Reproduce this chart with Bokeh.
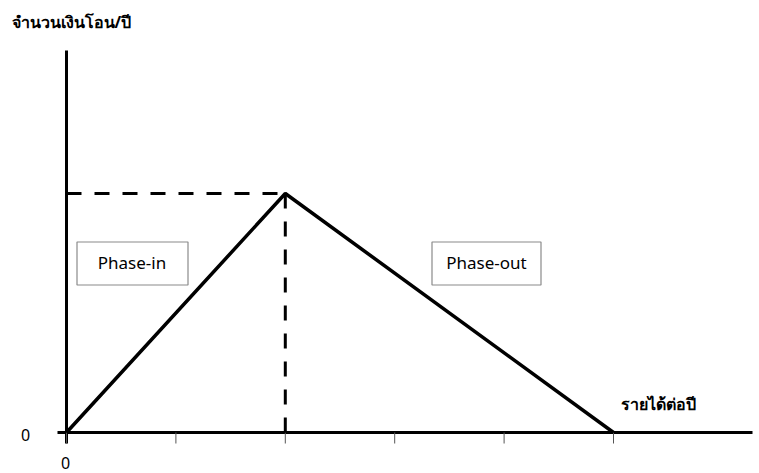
from bokeh.plotting import figure
from bokeh.models import Range1d, Label
from bokeh.embed import file_html
from bokeh.resources import INLINE

# Income brackets along the horizontal axis (tick positions)
income_ticks = [0, 1, 2, 3, 4, 5]
# Transfer schedule: rises to the peak, then phases out to zero
income_points = [0, 2, 5]
transfer_points = [0, 1, 0]
peak_income = 2
peak_transfer = 1

y_title = "จำนวนเงินโอน/ปี"
x_title = "รายได้ต่อปี"
phase_in_label = "Phase-in"
phase_out_label = "Phase-out"

W, H = 759, 473
X0, XS = 66.0, 109.4     # pixel of x=0, pixels per x unit
Y0, YS = 432.0, 239.0    # pixel of y=0, pixels per y unit


def dx(px):
    return (px - X0) / XS


def dy(py):
    return (Y0 - py) / YS


p = figure(width=W, height=H, x_range=Range1d(dx(0), dx(W)), y_range=Range1d(dy(H), dy(0)),
           min_border=0, toolbar_location=None, output_backend="svg")
p.axis.visible = False
p.grid.visible = False
p.outline_line_color = None
p.background_fill_color = "white"

FONT = "Noto Sans"

# axes
p.line([0, 0], [dy(443), dy(50)], line_color="black", line_width=3)
p.line([dx(57), dx(752)], [0, 0], line_color="black", line_width=3)
p.segment(x0=income_ticks, y0=[0] * len(income_ticks), x1=income_ticks,
          y1=[dy(443)] * len(income_ticks), line_color="#555555", line_width=1)

# dashed guides to the peak
p.line([0, peak_income], [peak_transfer, peak_transfer], line_color="black", line_width=3, line_dash="15 13")
p.line([peak_income, peak_income], [0, peak_transfer], line_color="black", line_width=3, line_dash="15 13")

# transfer schedule
p.line(income_points, transfer_points, line_color="black", line_width=3.5)

# phase boxes
p.quad(left=[dx(76.5), dx(431.5)], right=[dx(187.5), dx(540.5)],
       bottom=[dy(284.5), dy(284.5)], top=[dy(241.5), dy(241.5)],
       fill_color="white", line_color="#8a8a8a", line_width=1.2)
p.add_layout(Label(x=dx(131.5), y=dy(262), text=phase_in_label, text_align="center",
                   text_baseline="middle", text_font=FONT, text_font_size="17px", text_color="black"))
p.add_layout(Label(x=dx(486), y=dy(262), text=phase_out_label, text_align="center",
                   text_baseline="middle", text_font=FONT, text_font_size="17px", text_color="black"))

# axis titles and zero labels
p.add_layout(Label(x=dx(11), y=dy(21), text=y_title, text_align="left", text_baseline="middle",
                   text_font=FONT, text_font_size="16px", text_font_style="bold", text_color="black"))
p.add_layout(Label(x=dx(620), y=dy(403), text=x_title, text_align="left", text_baseline="middle",
                   text_font=FONT, text_font_size="16px", text_font_style="bold", text_color="black"))
p.add_layout(Label(x=dx(25), y=dy(434), text="0", text_align="center", text_baseline="middle",
                   text_font=FONT, text_font_size="16px", text_color="black"))
p.add_layout(Label(x=dx(65), y=dy(462), text="0", text_align="center", text_baseline="middle",
                   text_font=FONT, text_font_size="16px", text_color="black"))

open("out.html", "w").write(file_html(p, INLINE))
